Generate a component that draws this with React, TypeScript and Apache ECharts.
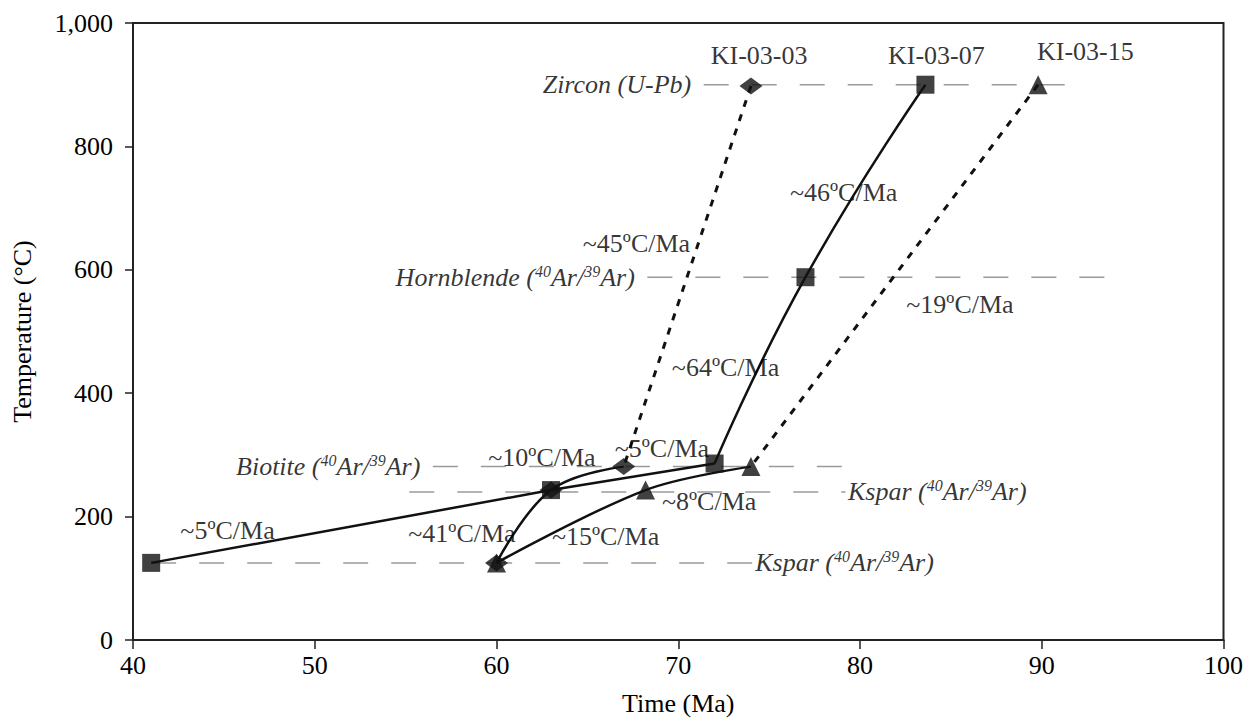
import React, { useEffect, useRef } from "react";
import * as echarts from "echarts";

const FONT = "'Liberation Serif', 'Times New Roman', serif";

// Cooling paths (Time Ma, Temperature °C)
const ki0303Dotted = [[74, 898], [67, 281]];
const ki0303Solid = [[67, 281], [63, 243], [60, 125]];
const ki0303Markers = [[74, 898], [67, 281], [63, 243], [60, 125]];

const ki0307Upper = [[72, 286], [77, 588], [83.6, 900]];
const ki0307Lower = [[41, 125], [63, 243], [72, 286]];
const ki0307Markers = [[83.6, 900], [77, 588], [72, 286], [63, 243], [41, 125]];

const ki0315Dotted = [[89.8, 900], [74, 281]];
const ki0315Solid = [[74, 281], [68.2, 243], [60, 125]];
const ki0315Markers = [[89.8, 900], [74, 281], [68.2, 243], [60, 125]];

// Closure-temperature reference lines
const closureNames = [
  "{it|Zircon (U-Pb)}",
  "{it|Hornblende (}{sup|40}{it|Ar/}{sup|39}{it|Ar)}",
  "{it|Biotite (}{sup|40}{it|Ar/}{sup|39}{it|Ar)}",
  "{it|Kspar (}{sup|40}{it|Ar/}{sup|39}{it|Ar)}",
  "{it|Kspar (}{sup|40}{it|Ar/}{sup|39}{it|Ar)}",
];
const closureTemps = [900, 588, 281, 240, 125];
const closureFrom = [71.4, 68.3, 56.5, 55.2, 41];
const closureTo = [92.5, 93.9, 79.0, 79.2, 74.1];
const closureLabelSide = ["left", "left", "left", "right", "right"];

// Cooling-rate annotations
const rateTexts = [
  "~46ºC/Ma", "~45ºC/Ma", "~19ºC/Ma", "~64ºC/Ma", "~5ºC/Ma",
  "~10ºC/Ma", "~8ºC/Ma", "~41ºC/Ma", "~15ºC/Ma", "~5ºC/Ma",
];
const ratePos = [
  [79.1, 726], [67.7, 643], [85.5, 543], [72.6, 441], [69.1, 311],
  [62.5, 295], [71.7, 224], [58.1, 173], [66.0, 167], [45.2, 178],
];

// Sample names
const sampleNames = ["KI-03-03", "KI-03-07", "KI-03-15"];
const samplePos = [[74.45, 948], [84.2, 948], [92.4, 954]];

const yTicks = { min: 0, max: 1000, interval: 200 };
const xTicks = { min: 40, max: 100, interval: 10 };

export default function App() {
  const ref = useRef<HTMLDivElement>(null);

  useEffect(() => {
    document.body.style.margin = "0";
    document.body.style.overflow = "hidden";
    if (!ref.current) return;
    const chart = echarts.init(ref.current, null, { renderer: "svg" });

    const FS = 26;
    const textBase = { fontFamily: FONT, fontSize: FS, color: "#000" };
    const rich = {
      it: { fontFamily: FONT, fontSize: FS, fontStyle: "italic", color: "#000", lineHeight: 28 },
      sup: { fontFamily: FONT, fontSize: 16, fontStyle: "italic", color: "#000", verticalAlign: "top", lineHeight: 28 },
    };

    const refSeries = closureNames.map((_, i) => ({
      type: "line",
      silent: true,
      z: 1,
      symbol: "none",
      lineStyle: { color: "#9a9a9a", width: 1.5, type: [25, 23] },
      data: [[closureFrom[i], closureTemps[i]], [closureTo[i], closureTemps[i]]],
    }));

    const closureLabelSeries = {
      type: "scatter",
      z: 5,
      silent: true,
      symbolSize: 1,
      itemStyle: { color: "rgba(0,0,0,0)" },
      data: closureNames.map((name, i) => {
        const left = closureLabelSide[i] === "left";
        return {
          name,
          value: [left ? closureFrom[i] : closureTo[i], closureTemps[i]],
          label: {
            show: true,
            position: left ? "left" : "right",
            distance: left ? 12 : 2,
            formatter: name,
            rich,
          },
        };
      }),
    };

    const solid = (data: number[][], smooth: number | boolean) => ({
      type: "line",
      z: 3,
      showSymbol: false,
      symbol: "none",
      smooth,
      lineStyle: { color: "#111", width: 2.5 },
      data,
    });
    const dotted = (data: number[][]) => ({
      type: "line",
      z: 3,
      showSymbol: false,
      symbol: "none",
      lineStyle: { color: "#111", width: 3, type: [7, 8] },
      data,
    });
    const markers = (data: number[][], symbol: string, size: number | number[], z: number) => ({
      type: "scatter",
      z,
      symbol,
      symbolSize: size,
      itemStyle: { color: "#111" },
      data,
    });
    const textSeries = (names: string[], pos: number[][]) => ({
      type: "scatter",
      z: 5,
      silent: true,
      symbolSize: 1,
      itemStyle: { color: "rgba(0,0,0,0)" },
      label: {
        show: true,
        position: "inside",
        formatter: (p: any) => p.name,
        ...textBase,
      },
      data: names.map((n, i) => ({ name: n, value: pos[i] })),
    });

    chart.setOption({
      animation: false,
      backgroundColor: "#fff",
      grid: {
        left: 133, right: 21, top: 23, bottom: 81,
        show: true, borderColor: "#222", borderWidth: 2,
      },
      xAxis: {
        type: "value",
        ...xTicks,
        name: "Time (Ma)",
        nameLocation: "middle",
        nameGap: 50,
        nameTextStyle: textBase,
        axisLine: { show: true, onZero: false, lineStyle: { color: "#222", width: 2 } },
        axisTick: { show: true, length: 9, lineStyle: { color: "#222", width: 1.5 } },
        axisLabel: { ...textBase, margin: 12 },
        splitLine: { show: false },
      },
      yAxis: {
        type: "value",
        ...yTicks,
        name: "Temperature (°C)",
        nameLocation: "middle",
        nameGap: 98,
        nameTextStyle: textBase,
        axisLine: { show: true, lineStyle: { color: "#222", width: 2 } },
        axisTick: { show: true, length: 8, lineStyle: { color: "#222", width: 1.5 } },
        axisLabel: {
          ...textBase,
          margin: 20,
          formatter: (v: number) => v.toLocaleString("en-US"),
        },
        splitLine: { show: false },
      },
      series: [
        ...refSeries,
        dotted(ki0303Dotted),
        solid(ki0303Solid, 0.4),
        solid(ki0307Lower, false),
        solid(ki0307Upper, 0.5),
        dotted(ki0315Dotted),
        solid(ki0315Solid, 0.35),
        markers(ki0303Markers, "diamond", [23, 17], 4),
        markers(ki0307Markers, "rect", 18, 5),
        markers(ki0315Markers, "triangle", 19, 6),
        textSeries(rateTexts, ratePos),
        textSeries(sampleNames, samplePos),
        closureLabelSeries,
      ],
    });

    return () => chart.dispose();
  }, []);

  return <div ref={ref} style={{ width: 1246, height: 721 }} />;
}
